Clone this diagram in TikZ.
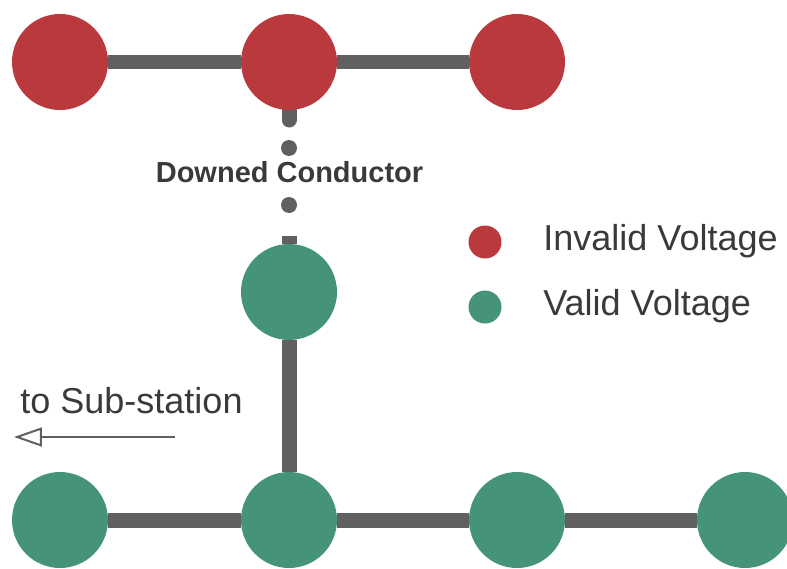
\documentclass[tikz,border=0pt]{standalone}
\usepackage{fontspec}
\setmainfont{Liberation Sans}
\usetikzlibrary{arrows.meta,backgrounds}
\definecolor{badred}{HTML}{B9393D}
\definecolor{goodgreen}{HTML}{45937A}
\definecolor{wiregray}{HTML}{606060}
\definecolor{txtgray}{HTML}{3A3A3A}

\begin{document}
\begin{tikzpicture}[x=0.02cm,y=-0.02cm,>=latex,
    bad/.style={circle,fill=badred,minimum size=1.92cm,inner sep=0pt},
    good/.style={circle,fill=goodgreen,minimum size=1.92cm,inner sep=0pt},
    keydot/.style={circle,minimum size=0.66cm,inner sep=0pt},
    brkdot/.style={circle,fill=wiregray,minimum size=0.32cm,inner sep=0pt},
    wire/.style={draw=wiregray,line width=0.3cm},
    lbl/.style={text=txtgray,inner sep=0pt,font=\fontsize{20.5}{24}\selectfont}]
        \useasboundingbox (0,0) rectangle (787,568);
        % feeder with invalid voltage
        \node[bad] (t1) at (60,62) {};
        \node[bad] (t2) at (289,62) {};
        \node[bad] (t3) at (517,62) {};
        % feeder with valid voltage
        \node[good] (m1) at (289,292) {};
        \node[good] (b1) at (60,520) {};
        \node[good] (b2) at (289,520) {};
        \node[good] (b3) at (517,520) {};
        \node[good] (b4) at (745,520) {};
        % downed conductor
        \coordinate (brkA) at (289,120);
        \coordinate (brkB) at (289,236);
        \node[brkdot] (d1) at (289,148) {};
        \node[brkdot] (d2) at (289,205) {};
        \node[text=txtgray,inner sep=0pt,font=\bfseries\fontsize{16.5}{20}\selectfont] (down) at (289.5,172.5) {Downed Conductor};
        \begin{scope}[on background layer]
            \draw[wire] (t1)--(t2);
            \draw[wire] (t2)--(t3);
            \draw[wire,line cap=round] (t2)--(brkA);
            \draw[wire] (brkB)--(m1);
            \draw[wire] (m1)--(b2);
            \draw[wire] (b1)--(b2);
            \draw[wire] (b2)--(b3);
            \draw[wire] (b3)--(b4);
        \end{scope}
        % legend
        \node[keydot,fill=badred] (k1) at (485,242) {};
        \node[keydot,fill=goodgreen] (k2) at (485,307) {};
        \node[lbl,anchor=base west] (k1txt) at (543,250) {Invalid Voltage};
        \node[lbl,anchor=base west] (k2txt) at (543,315) {Valid Voltage};
        % direction of sub-station
        \node[lbl,anchor=base west] (sub) at (20,413) {to Sub-station};
        \coordinate (subA) at (175,437);
        \coordinate (subB) at (14,437);
        \draw[-{Triangle[open,length=0.56cm,width=0.38cm]},draw=wiregray,line width=0.04cm] (subA)--(subB);
    \end{tikzpicture}
\end{document}
